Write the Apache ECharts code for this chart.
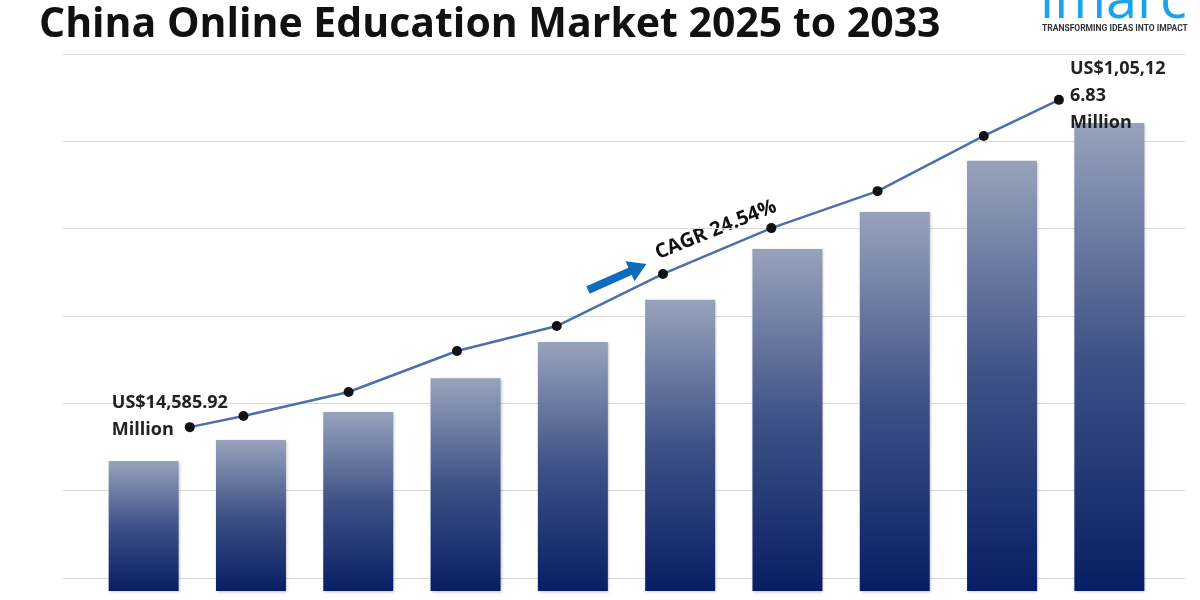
<!DOCTYPE html>
<html>
<head>
<meta charset="utf-8">
<script src="https://cdn.jsdelivr.net/npm/echarts@6/dist/echarts.min.js"></script>
<style>html,body{margin:0;padding:0;background:#fff}#main{width:1200px;height:600px}</style>
</head>
<body>
<div id="main"></div>
<script>
// years of the bars
var years = ['2025', '2026', '2027', '2028', '2029', '2030', '2031', '2032', '2033', '2034'];
// bar heights (US$ million)
var barValues = [29200, 33900, 40200, 47800, 55900, 65400, 76800, 85100, 96600, 105127];
// trend line: position along the year axis and value
var lineX = [2025.43, 2025.93, 2026.91, 2027.92, 2028.85, 2029.84, 2030.85, 2031.84, 2032.83, 2033.53];
var lineY = [36800, 39300, 44700, 53900, 59500, 71200, 81500, 89800, 102200, 110300];

var lineData = lineX.map(function (x, i) { return [x, lineY[i]]; });

var chart = echarts.init(document.getElementById('main'));
var option = {
	backgroundColor: '#fff',
	title: {
		text: 'China Online Education Market 2025 to 2033',
		left: 34, top: 0,
		textStyle: { fontFamily: 'Open Sans', fontWeight: 'bold', fontSize: 41, color: '#111' }
	},
	grid: [
		{ left: 63, right: 15, top: 54, bottom: 22 },
		{ left: 90, right: 37, top: 54, bottom: 9 }
	],
	xAxis: [
		{ gridIndex: 0, type: 'value', show: false },
		{ gridIndex: 1, type: 'category', data: years, show: false },
		{ gridIndex: 1, type: 'value', min: 2024.5, max: 2034.5, show: false }
	],
	yAxis: [
		{
			gridIndex: 0, type: 'value', min: 0, max: 6, interval: 1,
			axisLabel: { show: false }, axisLine: { show: false }, axisTick: { show: false },
			splitLine: { lineStyle: { color: '#dadada', width: 1 } }
		},
		{ gridIndex: 1, type: 'value', min: 0, max: 120600, show: false }
	],
	series: [
		{
			type: 'bar', xAxisIndex: 1, yAxisIndex: 1, data: barValues, barWidth: 70,
			itemStyle: {
				color: new echarts.graphic.LinearGradient(0, 0, 0, 1, [
					{ offset: 0, color: 'rgb(152,162,188)' },
					{ offset: 0.5, color: 'rgb(62,82,135)' },
					{ offset: 1, color: 'rgb(8,30,100)' }
				]),
				shadowColor: 'rgba(0,0,0,0.25)', shadowBlur: 3, shadowOffsetX: 1, shadowOffsetY: 1
			},
			silent: true
		},
		{
			type: 'line', xAxisIndex: 2, yAxisIndex: 1, data: lineData,
			symbol: 'circle', symbolSize: 10,
			lineStyle: { color: '#4a70ae', width: 2.5 },
			itemStyle: { color: '#111' },
			label: {
				show: true, fontFamily: 'Open Sans', fontWeight: 'bold', fontSize: 18, color: '#222',
				lineHeight: 27,
				formatter: function (p) {
					if (p.dataIndex === 0) return 'US$14,585.92\nMillion';
					if (p.dataIndex === lineData.length - 1) return 'US$1,05,12\n6.83\nMillion';
					return '';
				},
				position: [0, 0]
			},
			labelLayout: function (p) {
				if (p.dataIndex === 0) return { x: p.rect.x - 73, y: p.rect.y - 6, align: 'left', verticalAlign: 'middle' };
				return { x: p.rect.x + 16, y: p.rect.y + 1, align: 'left', verticalAlign: 'middle' };
			}
		}
	],
	graphic: [
		{
			type: 'text', left: 1040, top: -26,
			style: { text: 'imarc', fontFamily: 'Open Sans', fontSize: 56, fill: '#1ba3e8' }
		},
		{
			type: 'text', left: 1042, top: 24,
			style: { text: 'TRANSFORMING IDEAS INTO IMPACT', fontFamily: 'Roboto', fontWeight: 'bold', fontSize: 8.5, fill: '#333' }
		},
		{
			type: 'group', x: 588, y: 290, rotation: 24 * Math.PI / 180,
			children: [
				{ type: 'polygon', shape: { points: [[0, -4], [46, -4], [46, -11], [64, 0], [46, 11], [46, 4], [0, 4]] }, style: { fill: '#0f6cbd' } }
			]
		},
		{
			type: 'text', x: 656, y: 254, rotation: 22 * Math.PI / 180,
			style: { text: 'CAGR 24.54%', fontFamily: 'Open Sans', fontWeight: 'bold', fontSize: 20, fill: '#111', verticalAlign: 'middle' }
		}
	]
};
chart.setOption(option);
</script>
</body>
</html>
